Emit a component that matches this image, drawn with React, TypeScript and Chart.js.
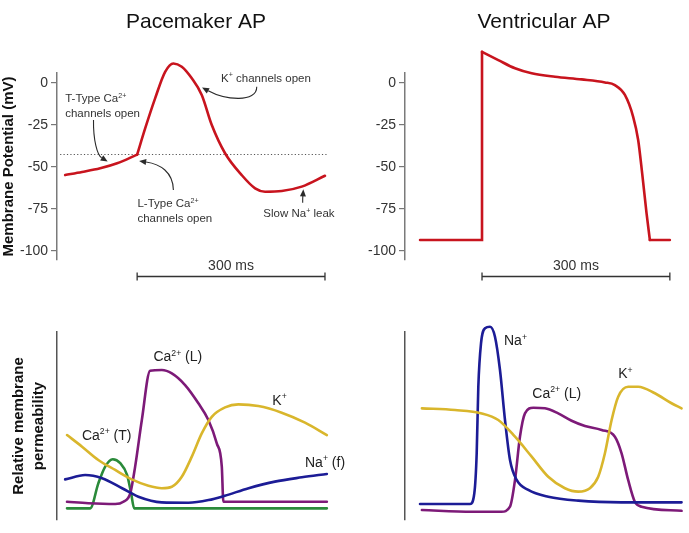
import React, { useEffect, useRef } from 'react';
import { Chart, registerables } from 'chart.js';

Chart.register(...registerables);

const FONT = '"Liberation Sans", Arial, Helvetica, sans-serif';
Chart.defaults.font.family = FONT;
const W = 689;
const H = 533;

// ---------------- tick labels ----------------
const membraneTicks = [0, -25, -50, -75, -100];

// ---------------- Pacemaker AP (time ms, potential mV) ----------------
const pacemakerPhase4Ms = [-115, -88, -59, -32, 0];
const pacemakerPhase4Mv = [-54.8, -53, -50.8, -47.8, -42.6];
const pacemakerSpikeMs = [0, 12.8, 28.7, 44.7, 57.9, 71.3, 87.3, 103.2, 119.2, 140.4, 167, 188.4, 204.3, 231, 262.8, 300];
const pacemakerSpikeMv = [-42.6, -27, -9.1, 6.7, 11.7, 9.7, 2.8, -7.1, -25, -41.8, -54.8, -62.7, -64.7, -64.3, -61.7, -55.2];
const thresholdMv = -42.5;

// ---------------- Ventricular AP ----------------
const ventRestMs = [-99, 0, 0];
const ventRestMv = [-93.5, -93.5, 18.6];
const ventPlateauMs = [0, 26, 52.7, 79.3, 116.5, 159.1, 196.3, 212.2, 228.2, 241.4, 249.4, 255.8, 262.8, 268.1];
const ventPlateauMv = [18.6, 13.7, 8.8, 5.8, 3.75, 2.2, 0.4, -1.2, -7.1, -20.1, -33.9, -53.8, -77.6, -93.5];
const ventEndMs = [268.1, 300];
const ventEndMv = [-93.5, -93.5];

// ---------------- Pacemaker permeability (relative units) ----------------
const pmCaTMs = [-112, -75, -62, -51, -39, -27, -16, -9.6, -4.8, 303];
const pmCaTVal = [6.2, 6.2, 19.5, 28.4, 32.3, 30.2, 23.9, 14.2, 6.2, 6.2];
const pmCaLMs = [-112, -78, -35, -22, -11, -3.2, 7.5, 20.7, 39.4, 55.4, 76.6, 97.8, 113.8, 127.2, 135.2, 137.7, 303];
const pmCaLVal = [9.7, 8.9, 8.5, 9.7, 14.2, 28.4, 53.2, 79.4, 79.8, 78, 71.8, 62.1, 53.2, 40.8, 28.4, 9.7, 9.7];
const pmKMs = [-112, -88, -62, -35, -8.5, 18, 39.4, 55.4, 71.3, 87.3, 103.2, 119.2, 140.4, 161.6, 193.6, 230.9, 268.1, 303];
const pmKVal = [45.2, 39, 31.9, 26.6, 21.6, 18.2, 16.9, 17.7, 23, 33.7, 46.1, 54.9, 59.9, 61.5, 60.6, 57.1, 51.8, 45.2];
const pmNaMs = [-115, -83, -56, -24, 2, 39, 82, 114, 140, 178, 220, 263, 303];
const pmNaVal = [21.6, 23.9, 22.2, 16.9, 12.4, 9.4, 9.2, 10.6, 12.9, 16.9, 20.4, 22.7, 24.5];

// ---------------- Ventricular permeability ----------------
const vNaMs = [-99, -19, -12.3, -8.5, -5.9, -1.6, 4.8, 12.8, 20.7, 28.7, 36.7, 44.7, 55.4, 73.9, 105.8, 153.7, 222.9, 318.7];
const vNaVal = [8.5, 8.5, 14.2, 35.5, 70.9, 94, 102, 102.8, 97.5, 79.8, 53.2, 31.9, 21.3, 16, 12.4, 10.3, 9.4, 9.4];
const vCaLMs = [-96, -16, 31, 44.7, 52.7, 60.6, 68.6, 81.9, 100.5, 121.7, 143.1, 164.4, 191, 212.2, 222.9, 233.4, 244.1, 254.8, 318.7];
const vCaLVal = [5.3, 4.4, 4.4, 7.1, 21.3, 44.3, 56.7, 59.7, 59.4, 56.7, 52.8, 50, 47.9, 44.3, 35.5, 21.3, 9.7, 7.1, 4.9];
const vKMs = [-96, -43, -0.5, 26, 52.7, 79.3, 105.8, 132.4, 153.7, 172.3, 185.6, 196.3, 207, 217.5, 233.4, 249.4, 276.1, 302.7, 318.7];
const vKVal = [59.4, 58.5, 56.7, 53.2, 44.3, 33.7, 23, 16.9, 15.1, 16.9, 23, 35.5, 53.2, 65.6, 70.9, 70.9, 67.4, 62.1, 59.4];

// ---------------- colours ----------------
const RED = '#c8141e';
const PURPLE = '#7d1a78';
const BLUE = '#1c1c96';
const YELLOW = '#d9b62c';
const GREEN = '#2a8a3a';
const INK = '#333333';

type Pt = [number, number];
interface Label { text: string; at: Pt; size: number; color?: string }
interface Arrow { from: Pt; c1: Pt; c2: Pt; to: Pt }
interface Deco {
  title?: string;
  labels?: Label[];
  arrows?: Arrow[];
  guide?: { y: number; x0: number; x1: number };
  bar?: { x0: number; x1: number; y: number; text: string; textY: number };
}

function parseRich(s: string) {
  const out: { t: string; sup: boolean }[] = [];
  const re = /\^\{([^}]*)\}/g;
  let last = 0;
  let m: RegExpExecArray | null;
  while ((m = re.exec(s))) {
    if (m.index > last) out.push({ t: s.slice(last, m.index), sup: false });
    out.push({ t: m[1], sup: true });
    last = re.lastIndex;
  }
  if (last < s.length) out.push({ t: s.slice(last), sup: false });
  return out;
}

function drawRich(ctx: CanvasRenderingContext2D, text: string, x: number, yc: number, size: number, color: string, align: 'left' | 'center' = 'left') {
  const segs = parseRich(text);
  const supSize = size * 0.62;
  let total = 0;
  const widths = segs.map((s) => {
    ctx.font = `${s.sup ? supSize : size}px ${FONT}`;
    const w = ctx.measureText(s.t).width;
    total += w;
    return w;
  });
  let cx = align === 'center' ? x - total / 2 : x;
  const base = yc + size * 0.36;
  ctx.fillStyle = color;
  ctx.textAlign = 'left';
  ctx.textBaseline = 'alphabetic';
  segs.forEach((s, i) => {
    ctx.font = `${s.sup ? supSize : size}px ${FONT}`;
    ctx.fillText(s.t, cx, s.sup ? base - size * 0.4 : base);
    cx += widths[i];
  });
}

function makeDeco(d: Deco) {
  return {
    id: 'deco',
    beforeDatasetsDraw(chart: any) {
      if (!d.guide) return;
      const { ctx, scales } = chart;
      const x = scales.x;
      const y = scales.y;
      ctx.save();
      ctx.strokeStyle = '#555';
      ctx.lineWidth = 1;
      ctx.setLineDash([1.2, 2.2]);
      const py = Math.round(y.getPixelForValue(d.guide.y)) + 0.5;
      ctx.beginPath();
      ctx.moveTo(x.getPixelForValue(d.guide.x0), py);
      ctx.lineTo(x.getPixelForValue(d.guide.x1), py);
      ctx.stroke();
      ctx.restore();
    },
    afterDatasetsDraw(chart: any) {
      const { ctx, scales, chartArea } = chart;
      const x = scales.x;
      const y = scales.y;
      const P = (p: Pt): Pt => [x.getPixelForValue(p[0]), y.getPixelForValue(p[1])];
      ctx.save();
      if (d.title) {
        ctx.font = `21px ${FONT}`;
        ctx.fillStyle = '#111';
        ctx.textAlign = 'center';
        ctx.textBaseline = 'alphabetic';
        ctx.fillText(d.title, (chartArea.left + chartArea.right) / 2, 28);
      }
      (d.labels || []).forEach((l) => {
        const [px, py] = P(l.at);
        drawRich(ctx, l.text, px, py, l.size, l.color || INK);
      });
      (d.arrows || []).forEach((a) => {
        const p0 = P(a.from);
        const p1 = P(a.c1);
        const p2 = P(a.c2);
        const p3 = P(a.to);
        ctx.strokeStyle = '#2b2b2b';
        ctx.fillStyle = '#2b2b2b';
        ctx.lineWidth = 1.1;
        const ang = Math.atan2(p3[1] - p2[1], p3[0] - p2[0]);
        const len = 7;
        const hw = 3;
        const bx = p3[0] - len * Math.cos(ang);
        const by = p3[1] - len * Math.sin(ang);
        ctx.beginPath();
        ctx.moveTo(p0[0], p0[1]);
        ctx.bezierCurveTo(p1[0], p1[1], p2[0], p2[1], bx, by);
        ctx.stroke();
        ctx.beginPath();
        ctx.moveTo(p3[0], p3[1]);
        ctx.lineTo(bx + hw * Math.sin(ang), by - hw * Math.cos(ang));
        ctx.lineTo(bx - hw * Math.sin(ang), by + hw * Math.cos(ang));
        ctx.closePath();
        ctx.fill();
      });
      if (d.bar) {
        const b = d.bar;
        const x0 = x.getPixelForValue(b.x0);
        const x1 = x.getPixelForValue(b.x1);
        const py = Math.round(y.getPixelForValue(b.y)) + 0.5;
        ctx.strokeStyle = INK;
        ctx.lineWidth = 1.3;
        ctx.beginPath();
        ctx.moveTo(x0, py);
        ctx.lineTo(x1, py);
        ctx.moveTo(x0, py - 4);
        ctx.lineTo(x0, py + 4);
        ctx.moveTo(x1, py - 4);
        ctx.lineTo(x1, py + 4);
        ctx.stroke();
        drawRich(ctx, b.text, (x0 + x1) / 2, y.getPixelForValue(b.textY), 14, INK, 'center');
      }
      ctx.restore();
    },
  };
}

function series(xs: number[], ys: number[], color: string, curved: boolean) {
  return {
    data: xs.map((v, i) => ({ x: v, y: ys[i] })),
    borderColor: color,
    backgroundColor: color,
    borderWidth: 2.6,
    pointRadius: 0,
    pointHoverRadius: 0,
    fill: false,
    tension: 0,
    cubicInterpolationMode: curved ? 'monotone' : 'default',
    capBezierPoints: false,
    clip: false,
    borderCapStyle: 'round',
    borderJoinStyle: curved ? 'round' : 'miter',
  };
}

interface PanelSpec {
  datasets: any[];
  xMin: number;
  xMax: number;
  yMin: number;
  yMax: number;
  padding: { left: number; right: number; top: number; bottom: number };
  axisWidth: number;
  ticks?: number[];
  axisColor: string;
  yTitle?: string | string[];
  yTitlePad?: number;
  yTitleLineHeight?: number;
  deco: Deco;
}

function buildConfig(p: PanelSpec): any {
  return {
    type: 'line',
    data: { datasets: p.datasets },
    options: {
      responsive: false,
      animation: false,
      events: [],
      layout: { padding: p.padding },
      plugins: { legend: { display: false }, tooltip: { enabled: false }, title: { display: false } },
      scales: {
        x: { type: 'linear', display: false, min: p.xMin, max: p.xMax },
        y: {
          type: 'linear',
          position: 'left',
          min: p.yMin,
          max: p.yMax,
          afterFit: (s: any) => {
            s.width = p.axisWidth;
          },
          afterBuildTicks: (s: any) => {
            if (p.ticks) s.ticks = p.ticks.map((v) => ({ value: v }));
          },
          ticks: {
            display: !!p.ticks,
            font: { family: FONT, size: 14 },
            color: INK,
            padding: 3,
            callback: (v: any) => String(v),
          },
          grid: { display: !!p.ticks, drawOnChartArea: false, drawTicks: true, tickLength: 6, color: '#777', lineWidth: 1.2 },
          border: { display: true, color: p.axisColor, width: 1.5 },
          title: p.yTitle
            ? {
                display: true,
                text: p.yTitle,
                font: { family: FONT, size: 15, weight: 'bold', lineHeight: p.yTitleLineHeight || 1.2 },
                color: '#111',
                padding: { top: p.yTitlePad || 0, bottom: 0 },
              }
            : { display: false },
        },
      },
    },
    plugins: [makeDeco(p.deco)],
  };
}

const LEFT_X = { min: -128, max: 316 };
const RIGHT_X = { min: -123, max: 321 };
const TOP_Y = { min: -105.4, max: 6 };
const BOT_Y = { min: 0, max: 100 };

const panels: PanelSpec[] = [
  {
    datasets: [
      series(pacemakerPhase4Ms, pacemakerPhase4Mv, RED, true),
      series(pacemakerSpikeMs, pacemakerSpikeMv, RED, true),
    ],
    xMin: LEFT_X.min,
    xMax: LEFT_X.max,
    yMin: TOP_Y.min,
    yMax: TOP_Y.max,
    padding: { left: 0, right: 354, top: 73, bottom: 273 },
    axisWidth: 57,
    ticks: membraneTicks,
    axisColor: '#7a7a7a',
    yTitle: 'Membrane Potential (mV)',
    yTitlePad: 0,
    yTitleLineHeight: 1.2,
    deco: {
      title: 'Pacemaker AP',
      guide: { y: thresholdMv, x0: -123, x1: 303 },
      bar: { x0: 0, x1: 300, y: -115, text: '300 ms', textY: -108.6 },
      labels: [
        { text: 'K^{+} channels open', at: [134, 3.2], size: 11.5 },
        { text: 'T-Type Ca^{2+}', at: [-114.9, -9.1], size: 11.5 },
        { text: 'channels open', at: [-114.9, -18], size: 11.5 },
        { text: 'L-Type Ca^{2+}', at: [0.5, -71.6], size: 11.5 },
        { text: 'channels open', at: [0.5, -80.5], size: 11.5 },
        { text: 'Slow Na^{+} leak', at: [201.5, -77.6], size: 11.5 },
      ],
      arrows: [
        { from: [191, -2.2], c1: [191.5, -11.9], c2: [140.4, -10.1], to: [103.7, -2.6] },
        { from: [-69.7, -22], c1: [-70.2, -33.9], c2: [-63.8, -42.9], to: [-47.1, -46.7] },
        { from: [57.9, -63.7], c1: [57.4, -53], c2: [36.7, -48.2], to: [3.2, -46.4] },
        { from: [264.4, -71.3], c1: [264.2, -68], c2: [265, -66], to: [265.4, -63.3] },
      ],
    },
  },
  {
    datasets: [
      series(ventRestMs, ventRestMv, RED, false),
      series(ventPlateauMs, ventPlateauMv, RED, true),
      series(ventEndMs, ventEndMv, RED, false),
    ],
    xMin: RIGHT_X.min,
    xMax: RIGHT_X.max,
    yMin: TOP_Y.min,
    yMax: TOP_Y.max,
    padding: { left: 345, right: 6, top: 73, bottom: 273 },
    axisWidth: 60,
    ticks: membraneTicks,
    axisColor: '#7a7a7a',
    deco: {
      title: 'Ventricular AP',
      bar: { x0: 0, x1: 300, y: -115, text: '300 ms', textY: -108.6 },
    },
  },
  {
    datasets: [
      series(pmKMs, pmKVal, YELLOW, true),
      series(pmNaMs, pmNaVal, BLUE, true),
      series(pmCaLMs, pmCaLVal, PURPLE, true),
      series(pmCaTMs, pmCaTVal, GREEN, true),
    ],
    xMin: LEFT_X.min,
    xMax: LEFT_X.max,
    yMin: BOT_Y.min,
    yMax: BOT_Y.max,
    padding: { left: 0, right: 354, top: 332, bottom: 13 },
    axisWidth: 57,
    axisColor: '#555',
    yTitle: ['Relative membrane', 'permeability'],
    yTitlePad: 9,
    yTitleLineHeight: 1.33,
    deco: {
      labels: [
        { text: 'Ca^{2+} (T)', at: [-88.2, 45.2], size: 14, color: '#222' },
        { text: 'Ca^{2+} (L)', at: [26, 87.2], size: 14, color: '#222' },
        { text: 'K^{+}', at: [215.9, 63.8], size: 14, color: '#222' },
        { text: 'Na^{+} (f)', at: [268.1, 31], size: 14, color: '#222' },
      ],
    },
  },
  {
    datasets: [
      series(vKMs, vKVal, YELLOW, true),
      series(vNaMs, vNaVal, BLUE, true),
      series(vCaLMs, vCaLVal, PURPLE, true),
    ],
    xMin: RIGHT_X.min,
    xMax: RIGHT_X.max,
    yMin: BOT_Y.min,
    yMax: BOT_Y.max,
    padding: { left: 345, right: 6, top: 332, bottom: 13 },
    axisWidth: 60,
    axisColor: '#555',
    deco: {
      labels: [
        { text: 'Na^{+}', at: [35.1, 95.7], size: 14, color: '#222' },
        { text: 'Ca^{2+} (L)', at: [80.3, 67.7], size: 14, color: '#222' },
        { text: 'K^{+}', at: [217.5, 78], size: 14, color: '#222' },
      ],
    },
  },
];

function Panel({ spec }: { spec: PanelSpec }) {
  const ref = useRef<HTMLCanvasElement>(null);
  useEffect(() => {
    const chart = new Chart(ref.current as HTMLCanvasElement, buildConfig(spec));
    return () => chart.destroy();
  }, [spec]);
  return <canvas ref={ref} width={W} height={H} style={{ position: 'absolute', left: 0, top: 0 }} />;
}

export default function App() {
  return (
    <div style={{ position: 'absolute', left: 0, top: 0, width: W, height: H, background: '#fff', overflow: 'hidden' }}>
      {panels.map((p, i) => (
        <Panel key={i} spec={p} />
      ))}
    </div>
  );
}
